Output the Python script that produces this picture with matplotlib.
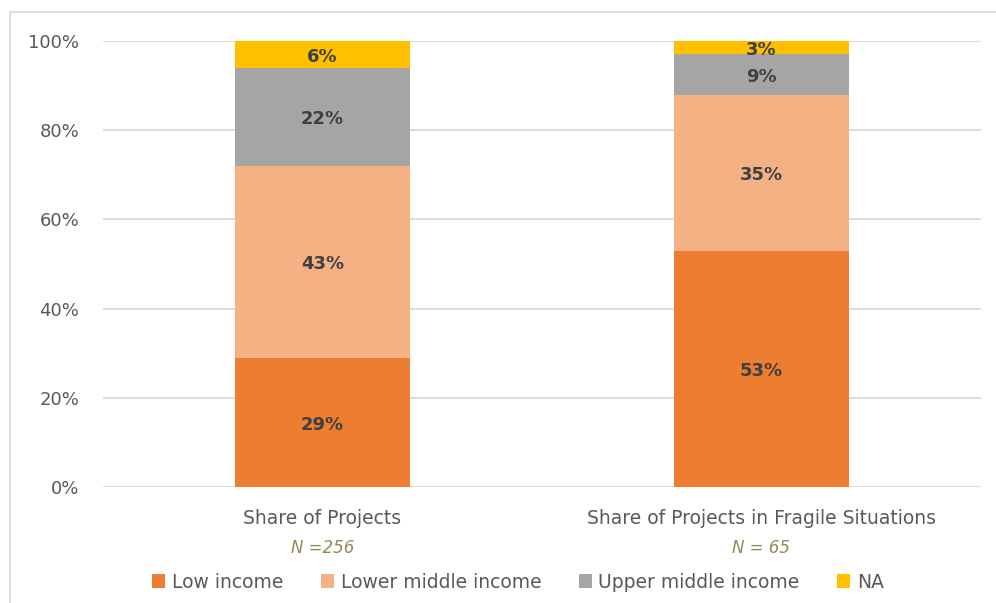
import matplotlib
matplotlib.use("Agg")
import matplotlib.pyplot as plt
from matplotlib.patches import Rectangle, Patch

plt.rcParams['font.family'] = ['DejaVu Sans']

categories = ["Share of Projects", "Share of Projects in Fragile Situations"]
n_labels = ["N =256", "N = 65"]
series = ["Low income", "Lower middle income", "Upper middle income", "NA"]
low_income = [29, 53]
lower_middle = [43, 35]
upper_middle = [22, 9]
na_share = [6, 3]
colors = ["#ED7D31", "#F4B183", "#A5A5A5", "#FFC000"]

fig = plt.figure(figsize=(9.96, 6.03), dpi=100)

# outer chart border (cropped at right and bottom)
fig.patches.append(Rectangle((10 / 996, -0.05), 1.1, 1 - 12 / 603 + 0.05,
                             transform=fig.transFigure, fill=False,
                             edgecolor="#D9D9D9", linewidth=1.2))
# cropped title, only descenders visible
fig.text(312 / 996, 1 + 5.5 / 603, "Projects by Income Category", ha="right",
         va="baseline", fontsize=17, fontweight="bold", color="black")

ax = fig.add_axes([103 / 996, 1 - 487 / 603, 878 / 996, 446 / 603])
x = range(len(categories))
bottom = [0, 0]
for vals, name, c in zip([low_income, lower_middle, upper_middle, na_share], series, colors):
    ax.bar(x, [v / 100 for v in vals], width=0.4, bottom=[b / 100 for b in bottom],
           color=c, label=name, zorder=2)
    for i, v in enumerate(vals):
        ax.text(i, (bottom[i] + v / 2) / 100 - 0.006, f"{v}%", ha="center", va="center",
                fontsize=13, fontweight="bold", color="#404040", zorder=3)
    bottom = [b + v for b, v in zip(bottom, vals)]

ax.set_xlim(-0.5, 1.5)
ax.set_ylim(0, 1)
ax.set_yticks([0, 0.2, 0.4, 0.6, 0.8, 1.0])
ax.set_yticklabels(["0%", "20%", "40%", "60%", "80%", "100%"], fontsize=13, color="#595959")
ax.tick_params(axis="y", length=0, pad=17)
ax.set_xticks([])
ax.grid(axis="y", color="#D9D9D9", linewidth=1.3, zorder=0)
for s in ax.spines.values():
    s.set_visible(False)

for i, (cat, n) in enumerate(zip(categories, n_labels)):
    ax.text(i, -32 / 446, cat, transform=ax.get_xaxis_transform(), ha="center",
            va="center", fontsize=13.5, color="#595959")
    ax.text(i, -61 / 446, n, transform=ax.get_xaxis_transform(), ha="center",
            va="center", fontsize=12, color="#948A54", style="italic")

handles = [Patch(facecolor=c, edgecolor="none") for c in colors]
fig.legend(handles, series, loc="center", bbox_to_anchor=(518 / 996, 1 - 582 / 603),
           ncol=4, frameon=False, fontsize=13.5, handlelength=0.7, handleheight=0.7,
           handletextpad=0.35, columnspacing=2.0, labelcolor="#595959")

fig.savefig("out.png", dpi=100)
